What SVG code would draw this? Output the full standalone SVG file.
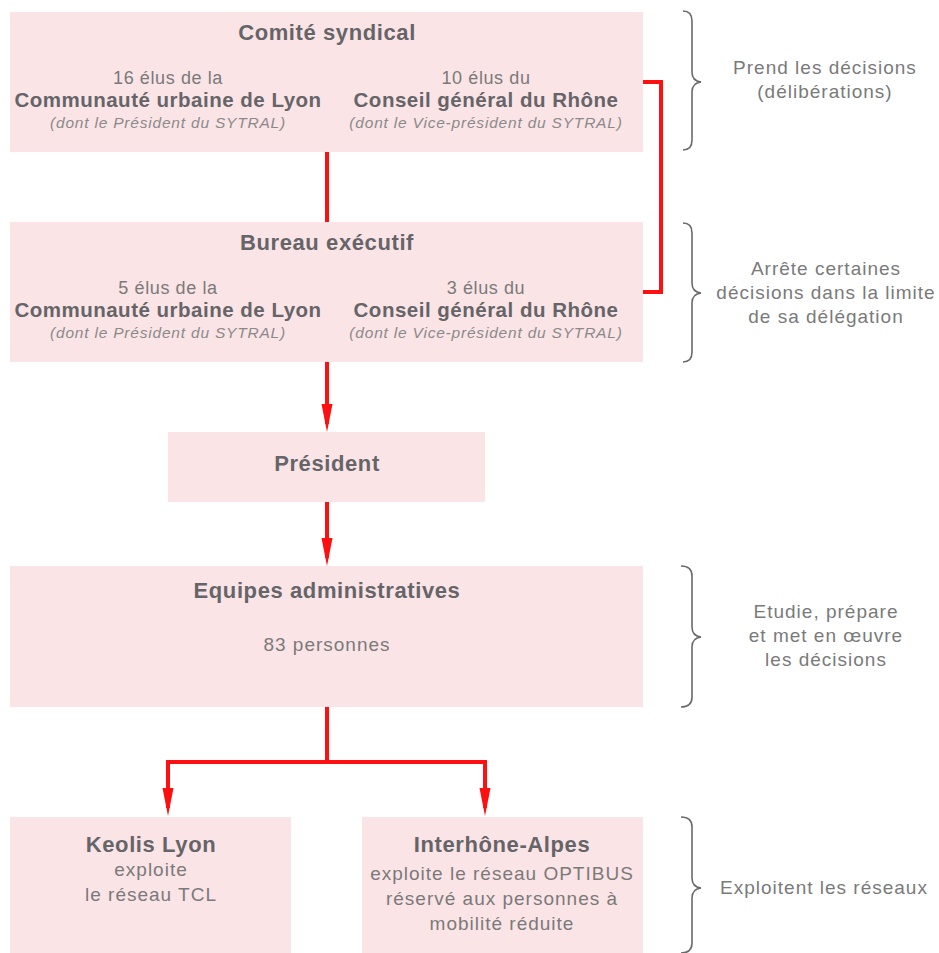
<svg xmlns="http://www.w3.org/2000/svg" width="939" height="953" viewBox="0 0 939 953">
<style>
.box{fill:#fbe4e6}
text{font-family:"Liberation Sans",Arial,sans-serif;text-anchor:middle}
.h{font-size:22px;font-weight:bold;fill:#656569;letter-spacing:0.6px}
.b{font-size:20.5px;font-weight:bold;fill:#656569;letter-spacing:0.5px}
.n{font-size:18px;fill:#7a7a7a;letter-spacing:0.6px}
.m{font-size:19px;fill:#7a7a7a;letter-spacing:1px}
.i{font-size:15.5px;font-style:italic;fill:#8a8a8a;letter-spacing:0.8px}
.s{font-size:19px;fill:#7a7a7a;letter-spacing:1px}
.link{fill:none;stroke:#ff1010;stroke-width:4}
.brace{fill:none;stroke:#6a6a6a;stroke-width:1.6}
</style>
<defs>
<marker id="arr" viewBox="0 0 28 12" refX="20" refY="6" markerWidth="28" markerHeight="12" markerUnits="userSpaceOnUse" orient="auto">
<path d="M0,0.5 L28,6 L0,11.5 z" fill="#ff1010"/>
</marker>
</defs>
<rect width="939" height="953" fill="#ffffff"/>

<g id="connectors">
<path class="link" d="M327,152 V222"/>
<path class="link" d="M643,82 H661 V292 H643"/>
<path class="link" d="M327,362 V424" marker-end="url(#arr)"/>
<path class="link" d="M327,502 V558" marker-end="url(#arr)"/>
<path class="link" d="M327,707 V762"/>
<path class="link" d="M327,762 H168 V808" marker-end="url(#arr)"/>
<path class="link" d="M327,762 H485 V808" marker-end="url(#arr)"/>
</g>

<g id="comite">
<rect class="box" x="10" y="12" width="633" height="140"/>
<text class="h" x="327" y="40">Comité syndical</text>
<text class="n" x="168" y="84">16 élus de la</text>
<text class="b" x="168" y="107">Communauté urbaine de Lyon</text>
<text class="i" x="168" y="128">(dont le Président du SYTRAL)</text>
<text class="n" x="486" y="84">10 élus du</text>
<text class="b" x="486" y="107">Conseil général du Rhône</text>
<text class="i" x="486" y="128">(dont le Vice-président du SYTRAL)</text>
</g>

<g id="bureau">
<rect class="box" x="10" y="222" width="633" height="140"/>
<text class="h" x="327" y="250">Bureau exécutif</text>
<text class="n" x="168" y="294">5 élus de la</text>
<text class="b" x="168" y="317">Communauté urbaine de Lyon</text>
<text class="i" x="168" y="338">(dont le Président du SYTRAL)</text>
<text class="n" x="486" y="294">3 élus du</text>
<text class="b" x="486" y="317">Conseil général du Rhône</text>
<text class="i" x="486" y="338">(dont le Vice-président du SYTRAL)</text>
</g>

<g id="president">
<rect class="box" x="168" y="432" width="317" height="70"/>
<text class="h" x="327" y="471">Président</text>
</g>

<g id="equipes">
<rect class="box" x="10" y="566" width="633" height="141"/>
<text class="h" x="327" y="598">Equipes administratives</text>
<text class="m" x="327" y="651">83 personnes</text>
</g>

<g id="keolis">
<rect class="box" x="10" y="817" width="281" height="136"/>
<text class="h" x="151" y="852">Keolis Lyon</text>
<text class="m" x="151" y="876">exploite</text>
<text class="m" x="151" y="901">le réseau TCL</text>
</g>

<g id="interhone">
<rect class="box" x="362" y="817" width="281" height="136"/>
<text class="h" x="502" y="852">Interhône-Alpes</text>
<text class="m" x="502" y="880">exploite le réseau OPTIBUS</text>
<text class="m" x="502" y="905">réservé aux personnes à</text>
<text class="m" x="502" y="930">mobilité réduite</text>
</g>

<g id="note-comite">
<path class="brace" d="M683,11 Q692,11 692,21 V72 Q692,81 701,82 Q692,83 692,92 V140 Q692,150 683,150"/>
<text class="s" x="825" y="74">Prend les décisions</text>
<text class="s" x="825" y="98">(délibérations)</text>
</g>

<g id="note-bureau">
<path class="brace" d="M683,223 Q692,223 692,233 V283 Q692,292 701,293 Q692,294 692,303 V352 Q692,362 683,362"/>
<text class="s" x="826" y="275">Arrête certaines</text>
<text class="s" x="826" y="299">décisions dans la limite</text>
<text class="s" x="826" y="323">de sa délégation</text>
</g>

<g id="note-equipes">
<path class="brace" d="M681,566 Q692,566 692,576 V627 Q692,636 701,637 Q692,638 692,647 V697 Q692,707 681,707"/>
<text class="s" x="826" y="618">Etudie, prépare</text>
<text class="s" x="826" y="642">et met en œuvre</text>
<text class="s" x="826" y="666">les décisions</text>
</g>

<g id="note-exploitants">
<path class="brace" d="M681,817 Q692,817 692,827 V878 Q692,887 701,888 Q692,889 692,898 V943 Q692,953 681,953"/>
<text class="s" x="824" y="894">Exploitent les réseaux</text>
</g>
</svg>
